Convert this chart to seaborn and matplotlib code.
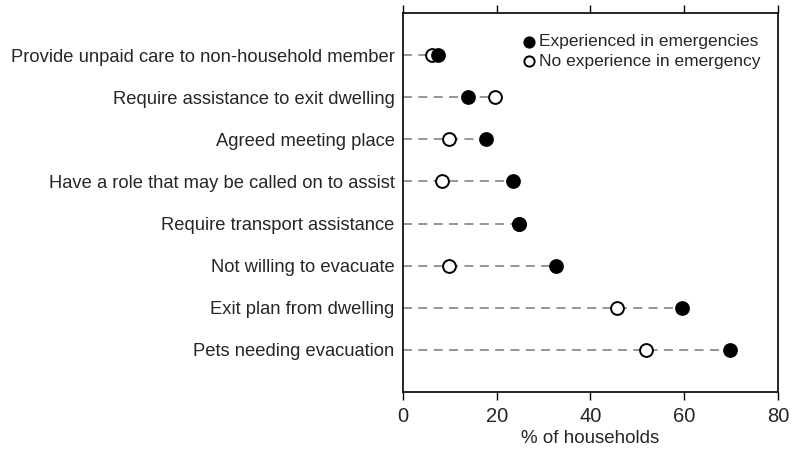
import numpy as np
import pandas as pd
import seaborn as sns
import matplotlib.pyplot as plt

# categories, top to bottom
categorias = ['Provide unpaid care to non-household member',
              'Require assistance to exit dwelling',
              'Agreed meeting place',
              'Have a role that may be called on to assist',
              'Require transport assistance',
              'Not willing to evacuate',
              'Exit plan from dwelling',
              'Pets needing evacuation']

# % of households
experienced = [7.4, 13.8, 17.8, 23.5, 24.7, 32.7, 59.5, 69.8]
no_experience = [6.1, 19.7, 9.9, 8.3, 24.8, 9.8, 45.6, 51.8]

x_ticks = [0, 20, 40, 60, 80]

df = pd.DataFrame({'categoria': categorias,
                   'experienced': experienced,
                   'no_experience': no_experience})
df['pos'] = np.arange(len(df))
df['max_val'] = df[['experienced', 'no_experience']].max(axis=1)

sns.set_style('white')
plt.rcParams['font.family'] = ['Liberation Sans', 'DejaVu Sans']

fig = plt.figure(figsize=(7.94, 4.54), dpi=100)
ax = fig.add_axes([0.5076, 0.1366, 0.4722, 0.8348])

# linhas tracejadas
ax.hlines(df.pos, 0, df.max_val, colors='#8c8c8c', linestyles=(0, (5, 3.5)), linewidth=1.3, zorder=1)

sns.scatterplot(x='no_experience', y='pos', data=df, ax=ax, marker='o', s=85,
                facecolor='white', edgecolor='black', linewidth=1.4, zorder=3,
                label='No experience in emergency')
sns.scatterplot(x='experienced', y='pos', data=df, ax=ax, marker='o', s=85,
                color='black', edgecolor='black', linewidth=1.4, zorder=4,
                label='Experienced in emergencies')

ax.set_xlim(0, 80)
ax.set_ylim(8, -1)
ax.set_xticks(x_ticks)
ax.set_xticklabels([str(t) for t in x_ticks], fontsize=14.5)
ax.set_yticks(df.pos)
ax.set_yticklabels(categorias, fontsize=13.2)
ax.set_xlabel('% of households', fontsize=13.5, labelpad=3)
ax.set_ylabel('')

for s in ax.spines.values():
    s.set_color('black')
    s.set_linewidth(1.2)

ax.tick_params(axis='x', which='both', direction='out', length=6, width=1, color='black',
               top=True, bottom=True, pad=5)
ax.tick_params(axis='y', length=0, pad=6)

handles, labels = ax.get_legend_handles_labels()
ax.legend(handles[::-1], labels[::-1], loc='upper right', frameon=False, fontsize=12.5,
          handletextpad=0.0, labelspacing=0.25, handlelength=1.2, markerscale=0.8,
          bbox_to_anchor=(0.995, 0.985))

fig.savefig('out.png', dpi=100)
